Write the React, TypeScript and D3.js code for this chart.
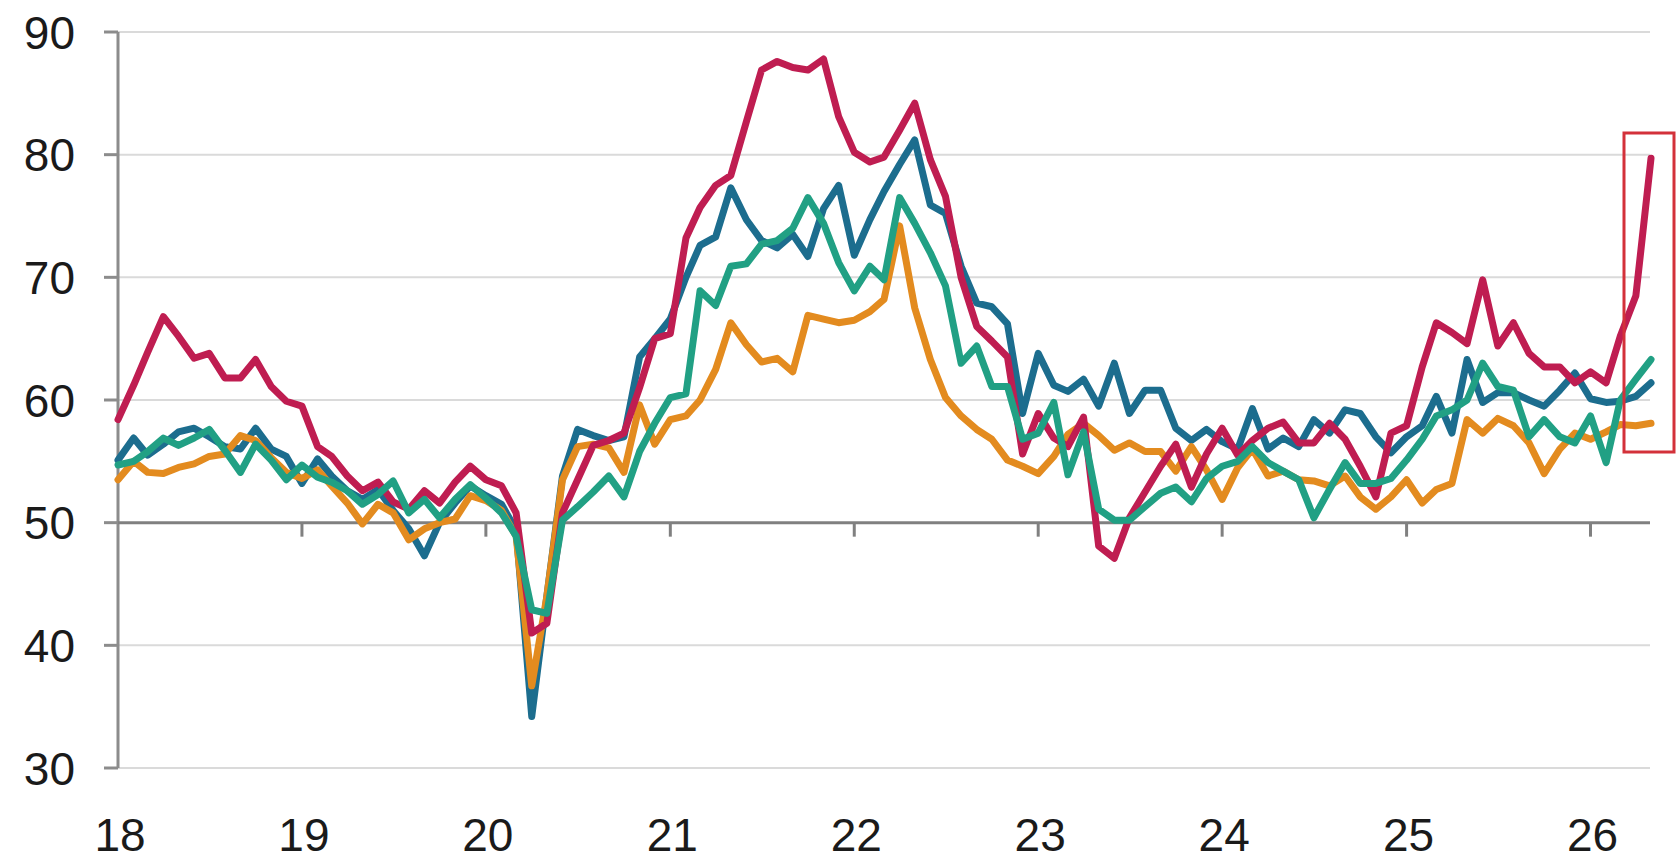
import React from "react";
import * as d3 from "d3";

// Monthly values, Jan 2018 .. May 2026 (101 months)
const seriesRed = [
  58.4, 61.2, 63.9, 66.8, 65.2, 63.4, 63.8, 61.8, 61.8, 63.3, 61.1, 59.9, 59.5,
  56.2, 55.4, 53.8, 52.6, 53.3, 51.7, 51.1, 52.6, 51.6, 53.3, 54.6, 53.5, 53.0,
  50.8, 41.0, 41.8, 50.8, 53.5, 56.3, 56.7, 57.3, 61.0, 65.0, 65.4, 73.2, 75.7,
  77.5, 78.3, 82.7, 86.9, 87.6, 87.1, 86.9, 87.8, 83.1, 80.2, 79.4, 79.8, 82.0,
  84.2, 79.6, 76.6, 70.0, 66.0, 64.8, 63.5, 55.6, 58.9, 56.9, 56.2, 58.6, 48.1,
  47.1, 50.4, 52.5, 54.6, 56.4, 52.9, 55.6, 57.7, 55.5, 56.7, 57.7, 58.2, 56.5,
  56.5, 58.1, 56.8, 54.6, 52.1, 57.3, 57.9, 62.7, 66.3, 65.5, 64.6, 69.8, 64.4,
  66.3, 63.8, 62.7, 62.7, 61.4, 62.3, 61.4, 65.2, 68.5, 79.7,
];
const seriesBlue = [
  55.1, 56.9, 55.5, 56.4, 57.4, 57.7, 57.0, 56.2, 56.0, 57.7, 56.0, 55.4, 53.2,
  55.2, 53.8, 52.6, 51.9, 52.7, 51.0, 49.5, 47.3, 50.0, 51.6, 53.0, 52.2, 51.5,
  49.4, 34.2, 44.0, 53.8, 57.6, 57.1, 56.7, 57.0, 63.5, 65.0, 66.6, 70.0, 72.6,
  73.3, 77.3, 74.7, 73.0, 72.4, 73.5, 71.7, 75.6, 77.5, 71.8, 74.7, 77.0, 79.2,
  81.2, 75.9, 75.2, 70.9, 67.9, 67.6, 66.2, 58.9, 63.8, 61.2, 60.7, 61.7, 59.5,
  63.0, 58.9, 60.8, 60.8, 57.7, 56.7, 57.6, 56.6, 56.0, 59.3, 56.0, 56.9, 56.2,
  58.4, 57.3, 59.2, 58.9, 57.0, 55.7, 57.0, 57.9, 60.3, 57.3, 63.3, 59.8, 60.6,
  60.6, 60.0, 59.5, 60.8, 62.2, 60.1, 59.8, 59.9, 60.3, 61.4,
];
const seriesOrange = [
  53.5, 55.0, 54.1, 54.0, 54.5, 54.8, 55.4, 55.6, 57.1, 56.7, 55.3, 54.1, 53.6,
  54.3, 53.0, 51.6, 49.9, 51.5, 50.8, 48.6, 49.5, 50.0, 50.3, 52.2, 51.8, 51.0,
  48.9, 36.7, 44.0, 53.5, 56.2, 56.4, 56.1, 54.1, 59.6, 56.4, 58.4, 58.7, 60.0,
  62.5, 66.3, 64.5, 63.1, 63.4, 62.3, 66.9, 66.6, 66.3, 66.5, 67.2, 68.2, 74.2,
  67.5, 63.3, 60.2, 58.7, 57.6, 56.8, 55.1, 54.6, 54.0, 55.4, 57.2, 58.1, 57.1,
  55.9, 56.5, 55.8, 55.8, 54.2, 56.2, 54.3, 51.9, 54.5, 56.0, 53.8, 54.2, 53.5,
  53.4, 53.0, 53.8, 52.1, 51.1, 52.1, 53.5, 51.6, 52.7, 53.2, 58.4, 57.3, 58.5,
  57.9, 56.5, 54.0, 56.0, 57.3, 56.8, 57.4, 58.0, 57.9, 58.1,
];
const seriesTeal = [
  54.7, 55.0, 55.8, 56.9, 56.3, 56.9, 57.6, 55.9, 54.1, 56.4, 55.1, 53.5, 54.7,
  53.7, 53.3, 52.6, 51.5, 52.3, 53.4, 50.8, 51.9, 50.4, 51.9, 53.1, 52.0, 50.8,
  48.9, 42.9, 42.6, 50.2, 51.3, 52.5, 53.8, 52.1, 55.8, 58.1, 60.2, 60.5, 68.9,
  67.7, 70.9, 71.1, 72.7, 73.0, 74.0, 76.5, 74.4, 71.2, 68.9, 70.9, 69.8, 76.5,
  74.4, 72.0, 69.3, 63.0, 64.4, 61.1, 61.1, 56.8, 57.3, 59.8, 53.9, 57.4, 51.1,
  50.2, 50.2, 51.3, 52.4, 52.9, 51.7, 53.6, 54.6, 55.0, 56.2, 54.9, 54.2, 53.5,
  50.4, 52.7, 54.9, 53.2, 53.2, 53.6, 55.1, 56.8, 58.7, 59.2, 60.0, 63.0, 61.1,
  60.8, 57.0, 58.4, 57.0, 56.5, 58.7, 54.9, 60.0, 61.7, 63.3,
];

const yearLabels = ["18", "19", "20", "21", "22", "23", "24", "25", "26"];
const yTickValues = [30, 40, 50, 60, 70, 80, 90];

const months = d3.timeMonth.range(new Date(2018, 0, 1), new Date(2026, 4, 2));

const W = 1678;
const H = 865;
const FONT = "'Liberation Sans', Arial, Helvetica, sans-serif";

export default function App() {
  const x = d3
    .scaleTime()
    .domain([new Date(2018, 0, 1), new Date(2026, 4, 1)])
    .range([118, 1651]);
  const y = d3.scaleLinear().domain([30, 90]).range([768, 32]);
  const xEnd = 1650;

  const line = d3
    .line<number>()
    .x((_, i) => x(months[i]))
    .y((d) => y(d));

  const series = [
    { name: "blue", data: seriesBlue, color: "#1c6d8e" },
    { name: "orange", data: seriesOrange, color: "#e38b1f" },
    { name: "red", data: seriesRed, color: "#bf1d51" },
    { name: "teal", data: seriesTeal, color: "#21a084" },
  ];

  const yearDates = yearLabels.map((_, i) => new Date(2018 + i, 0, 1));

  return (
    <svg
      width={W}
      height={H}
      style={{ position: "absolute", left: 0, top: 0, display: "block", background: "#fff" }}
    >
      {yTickValues
        .filter((v) => v !== 50)
        .map((v) => (
          <line key={"g" + v} x1={118} x2={xEnd} y1={y(v)} y2={y(v)} stroke="#dadada" strokeWidth={2} />
        ))}
      <line x1={118} x2={118} y1={y(90)} y2={y(30)} stroke="#8c8c8c" strokeWidth={3} />
      {yTickValues.map((v) => (
        <line key={"yt" + v} x1={104} x2={118} y1={y(v)} y2={y(v)} stroke="#8c8c8c" strokeWidth={3} />
      ))}
      <line x1={118} x2={xEnd} y1={y(50)} y2={y(50)} stroke="#808080" strokeWidth={3} />
      {yearDates.slice(1).map((d, i) => (
        <line key={"xt" + i} x1={x(d)} x2={x(d)} y1={y(50)} y2={y(50) + 14} stroke="#808080" strokeWidth={3} />
      ))}
      {yTickValues.map((v) => (
        <text
          key={"yl" + v}
          x={75}
          y={y(v)}
          dy="0.36em"
          textAnchor="end"
          fontFamily={FONT}
          fontSize={46}
          fill="#1a1a1a"
        >
          {v}
        </text>
      ))}
      {yearDates.map((d, i) => (
        <text
          key={"xl" + i}
          x={x(d) + 2}
          y={851}
          textAnchor="middle"
          fontFamily={FONT}
          fontSize={46}
          fill="#1a1a1a"
        >
          {yearLabels[i]}
        </text>
      ))}
      {series.map((s) => (
        <path
          key={s.name}
          d={line(s.data) || ""}
          fill="none"
          stroke={s.color}
          strokeWidth={7}
          strokeLinejoin="round"
          strokeLinecap="round"
        />
      ))}
      <rect x={1624} y={133} width={50} height={319} fill="none" stroke="#d3313a" strokeWidth={3} />
    </svg>
  );
}
